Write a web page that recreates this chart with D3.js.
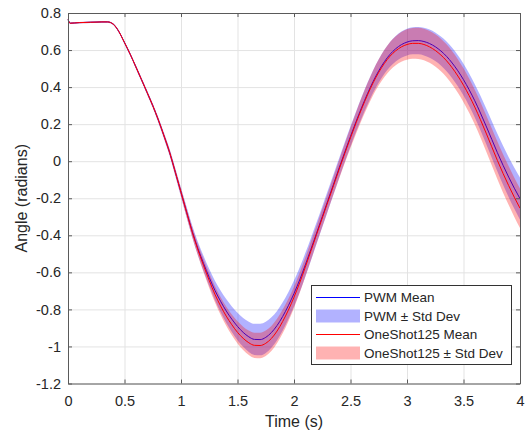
<!DOCTYPE html>
<html>
<head>
<meta charset="utf-8">
<script src="https://cdn.jsdelivr.net/npm/d3@7"></script>
<style>
	body { margin: 0; background: white; }
	svg { display: block; font-family: "Liberation Sans", Arial, sans-serif; }
</style>
</head>
<body>
<script>
// DATA
// sample times (s)
const times = [0, 0.02, 0.1, 0.2, 0.3, 0.35, 0.4, 0.45, 0.5, 0.55, 0.6, 0.65, 0.7, 0.75, 0.8, 0.85, 0.9, 0.95, 1.0,
	1.05, 1.1, 1.15, 1.2, 1.25, 1.3, 1.35, 1.4, 1.45, 1.5, 1.55, 1.6, 1.65, 1.7, 1.75, 1.8, 1.85, 1.9, 1.95, 2.0,
	2.05, 2.1, 2.15, 2.2, 2.25, 2.3, 2.35, 2.4, 2.45, 2.5, 2.55, 2.6, 2.65, 2.7, 2.75, 2.8, 2.85, 2.9, 2.95, 3.0,
	3.05, 3.1, 3.15, 3.2, 3.25, 3.3, 3.35, 3.4, 3.45, 3.5, 3.55, 3.6, 3.65, 3.7, 3.75, 3.8, 3.85, 3.9, 3.95, 4.0];
// PWM mean angle (rad)
const pwmMean = [0.765, 0.745, 0.748, 0.750, 0.752, 0.752, 0.740, 0.700, 0.640, 0.578, 0.510, 0.441, 0.371, 0.300, 0.222, 0.136, 0.046, -0.060, -0.168,
	-0.275, -0.380, -0.472, -0.553, -0.628, -0.697, -0.756, -0.808, -0.853, -0.892, -0.924, -0.948, -0.962, -0.963, -0.951, -0.925, -0.887, -0.838, -0.780, -0.714,
	-0.641, -0.560, -0.475, -0.388, -0.300, -0.212, -0.124, -0.036, 0.050, 0.134, 0.215, 0.292, 0.364, 0.430, 0.488, 0.537, 0.577, 0.607, 0.629, 0.643,
	0.650, 0.651, 0.646, 0.635, 0.618, 0.595, 0.566, 0.530, 0.488, 0.440, 0.386, 0.326, 0.260, 0.190, 0.118, 0.046, -0.022, -0.086, -0.146, -0.202];
// PWM std dev
const pwmStd = [0.004, 0.004, 0.004, 0.004, 0.004, 0.004, 0.005, 0.006, 0.007, 0.008, 0.009, 0.010, 0.011, 0.012, 0.014, 0.016, 0.018, 0.021, 0.024,
	0.028, 0.032, 0.036, 0.041, 0.046, 0.052, 0.058, 0.064, 0.069, 0.074, 0.078, 0.082, 0.084, 0.085, 0.084, 0.082, 0.079, 0.076, 0.073, 0.070,
	0.067, 0.064, 0.061, 0.058, 0.056, 0.055, 0.054, 0.053, 0.053, 0.054, 0.055, 0.057, 0.059, 0.061, 0.063, 0.065, 0.067, 0.069, 0.071, 0.072,
	0.073, 0.074, 0.075, 0.076, 0.077, 0.078, 0.080, 0.082, 0.084, 0.086, 0.088, 0.090, 0.093, 0.096, 0.099, 0.102, 0.105, 0.108, 0.111, 0.114];
// OneShot125 mean angle (rad)
const osMean = [0.765, 0.745, 0.748, 0.750, 0.752, 0.752, 0.740, 0.700, 0.640, 0.578, 0.510, 0.441, 0.371, 0.300, 0.222, 0.136, 0.046, -0.060, -0.168,
	-0.277, -0.384, -0.479, -0.564, -0.644, -0.718, -0.781, -0.836, -0.883, -0.924, -0.956, -0.980, -0.994, -0.995, -0.983, -0.957, -0.917, -0.865, -0.804, -0.734,
	-0.657, -0.572, -0.484, -0.395, -0.307, -0.219, -0.131, -0.043, 0.043, 0.127, 0.208, 0.285, 0.357, 0.423, 0.480, 0.528, 0.567, 0.596, 0.617, 0.630,
	0.636, 0.636, 0.630, 0.617, 0.598, 0.573, 0.542, 0.504, 0.460, 0.410, 0.354, 0.292, 0.224, 0.152, 0.078, 0.004, -0.066, -0.132, -0.195, -0.254];
// OneShot125 std dev
const osStd = [0.004, 0.004, 0.004, 0.004, 0.004, 0.004, 0.005, 0.006, 0.007, 0.008, 0.009, 0.010, 0.011, 0.012, 0.013, 0.015, 0.017, 0.019, 0.022,
	0.025, 0.028, 0.032, 0.036, 0.040, 0.044, 0.048, 0.052, 0.056, 0.060, 0.063, 0.066, 0.068, 0.069, 0.069, 0.068, 0.066, 0.064, 0.061, 0.058,
	0.055, 0.052, 0.050, 0.048, 0.047, 0.047, 0.048, 0.050, 0.052, 0.055, 0.058, 0.061, 0.064, 0.067, 0.070, 0.073, 0.076, 0.078, 0.080, 0.082,
	0.083, 0.084, 0.085, 0.086, 0.087, 0.088, 0.089, 0.090, 0.091, 0.092, 0.093, 0.094, 0.096, 0.098, 0.100, 0.102, 0.104, 0.105, 0.106, 0.107];
// ticks and labels
const xTicks = [0, 0.5, 1, 1.5, 2, 2.5, 3, 3.5, 4];
const yTicks = [0.8, 0.6, 0.4, 0.2, 0, -0.2, -0.4, -0.6, -0.8, -1, -1.2];
const legendLabels = ["PWM Mean", "PWM \u00b1 Std Dev", "OneShot125 Mean", "OneShot125 \u00b1 Std Dev"];


// CHART
const W = 527, H = 434;
const m = { left: 68, right: 7, top: 13, bottom: 50.5 };
const iw = W - m.left - m.right;
const ih = H - m.top - m.bottom;
const axisColor = "#5a5a5a";
const textColor = "#262626";

const svg = d3.select("body").append("svg")
	.attr("width", W)
	.attr("height", H);

const x = d3.scaleLinear().domain([0, 4]).range([0, iw]);
const y = d3.scaleLinear().domain([-1.2, 0.8]).range([ih, 0]);

const g = svg.append("g").attr("transform", `translate(${m.left},${m.top})`);

// grid
g.append("g")
	.attr("transform", `translate(0,${ih})`)
	.call(d3.axisBottom(x).tickValues(xTicks).tickSize(-ih).tickFormat(""))
	.call(s => s.select(".domain").remove())
	.call(s => s.selectAll("line").attr("stroke", "#e3e3e3"));
g.append("g")
	.call(d3.axisLeft(y).tickValues(yTicks).tickSize(-iw).tickFormat(""))
	.call(s => s.select(".domain").remove())
	.call(s => s.selectAll("line").attr("stroke", "#e3e3e3"));

// series
const rows = times.map((t, i) => ({ t, pm: pwmMean[i], ps: pwmStd[i], om: osMean[i], os: osStd[i] }));
const curve = d3.curveMonotoneX;

const area = (mean, sd) => d3.area()
	.x(d => x(d.t))
	.y0(d => y(d[mean] - d[sd]))
	.y1(d => y(d[mean] + d[sd]))
	.curve(curve);
const line = (mean) => d3.line()
	.x(d => x(d.t))
	.y(d => y(d[mean]))
	.curve(curve);

g.append("path").datum(rows)
	.attr("d", area("pm", "ps"))
	.attr("fill", "rgb(0,0,255)").attr("fill-opacity", 0.3);
g.append("path").datum(rows)
	.attr("d", line("pm"))
	.attr("fill", "none").attr("stroke", "rgb(0,0,255)").attr("stroke-width", 1);
g.append("path").datum(rows)
	.attr("d", area("om", "os"))
	.attr("fill", "rgb(255,0,0)").attr("fill-opacity", 0.3);
g.append("path").datum(rows)
	.attr("d", line("om"))
	.attr("fill", "none").attr("stroke", "rgb(255,0,0)").attr("stroke-width", 1);

// axes (box with inward ticks)
const fmt = d => String(d);
const styleAxis = s => {
	s.select(".domain").attr("stroke", axisColor);
	s.selectAll(".tick line").attr("stroke", axisColor);
	s.selectAll("text").attr("fill", textColor).style("font-size", "14.5px");
};
g.append("g")
	.attr("transform", `translate(0,${ih})`)
	.call(d3.axisBottom(x).tickValues(xTicks).tickSizeInner(-4).tickSizeOuter(0).tickPadding(12).tickFormat(fmt))
	.call(styleAxis);
g.append("g")
	.call(d3.axisTop(x).tickValues(xTicks).tickSizeInner(-4).tickSizeOuter(0).tickFormat(""))
	.call(styleAxis);
g.append("g")
	.call(d3.axisLeft(y).tickValues(yTicks).tickSizeInner(-4).tickSizeOuter(0).tickPadding(7).tickFormat(fmt))
	.call(styleAxis);
g.append("g")
	.attr("transform", `translate(${iw},0)`)
	.call(d3.axisRight(y).tickValues(yTicks).tickSizeInner(-4).tickSizeOuter(0).tickFormat(""))
	.call(styleAxis);

// axis labels
svg.append("text")
	.attr("x", m.left + iw / 2).attr("y", 427)
	.attr("text-anchor", "middle")
	.attr("fill", textColor).style("font-size", "16px")
	.text("Time (s)");
svg.append("text")
	.attr("transform", `translate(27,${m.top + ih / 2}) rotate(-90)`)
	.attr("text-anchor", "middle")
	.attr("fill", textColor).style("font-size", "16px")
	.text("Angle (radians)");

// legend
const lg = svg.append("g").attr("transform", "translate(311,285)");
lg.append("rect")
	.attr("x", 0.5).attr("y", 0.5).attr("width", 200).attr("height", 79)
	.attr("fill", "white").attr("stroke", "#333").attr("stroke-width", 1);
const rowY = [12.5, 31, 49.5, 68];
const items = [
	{ kind: "line", color: "rgb(0,0,255)" },
	{ kind: "patch", color: "rgb(0,0,255)" },
	{ kind: "line", color: "rgb(255,0,0)" },
	{ kind: "patch", color: "rgb(255,0,0)" }
];
items.forEach((it, i) => {
	if (it.kind === "line") {
		lg.append("line")
			.attr("x1", 5).attr("x2", 49).attr("y1", rowY[i]).attr("y2", rowY[i])
			.attr("stroke", it.color).attr("stroke-width", 1);
	} else {
		lg.append("rect")
			.attr("x", 5).attr("y", rowY[i] - 6.5).attr("width", 44).attr("height", 13)
			.attr("fill", it.color).attr("fill-opacity", 0.3);
	}
	lg.append("text")
		.attr("x", 53).attr("y", rowY[i]).attr("dy", "0.35em")
		.attr("fill", textColor).style("font-size", "13.5px")
		.text(legendLabels[i]);
});
</script>
</body>
</html>
